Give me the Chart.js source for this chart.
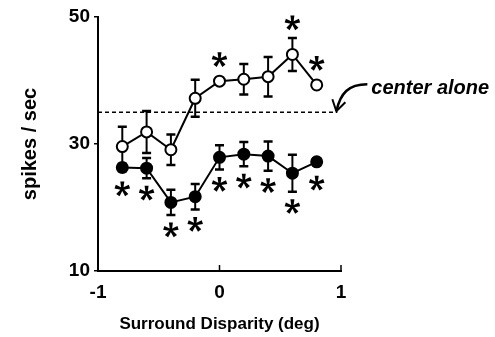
<!DOCTYPE html>
<html>
<head>
<meta charset="utf-8">
<script src="https://cdn.jsdelivr.net/npm/chart.js@4/dist/chart.umd.min.js"></script>
<style>
  html, body { margin: 0; padding: 0; background: #fff; }
  #wrap { width: 495px; height: 337px; position: relative; }
</style>
</head>
<body>
<div id="wrap"><canvas id="c" width="495" height="337"></canvas></div>
<script>
// ---- data ----
const disparity = [-0.8, -0.6, -0.4, -0.2, 0, 0.2, 0.4, 0.6, 0.8];
const surroundOpen = [29.6, 31.9, 29.1, 37.2, 39.9, 40.2, 40.6, 44.1, 39.3];
const surroundOpenErr = [3.1, 3.3, 2.4, 2.9, 0.4, 2.4, 3.1, 2.6, 0.4];
const surroundOpenSig = [0, 0, 0, 0, 1, 0, 0, 1, 1];
const surroundFilled = [26.3, 26.2, 20.8, 21.7, 27.9, 28.4, 28.1, 25.4, 27.2];
const surroundFilledErr = [0.6, 1.6, 2.0, 2.0, 1.9, 1.9, 2.3, 2.9, 0.5];
const surroundFilledSig = [1, 1, 1, 1, 1, 1, 1, 1, 1];
const centerAlone = 35;
const centerAloneLabel = 'center alone';
const xTicks = [-1, 0, 1];
const yTicks = [10, 30, 50];
const xTitle = 'Surround Disparity (deg)';
const yTitle = 'spikes / sec';

const FONT = "'Liberation Sans', Arial, Helvetica, sans-serif";
const R = 5.5;

const pts = (ys) => disparity.map((x, i) => ({ x: x, y: ys[i] }));

const errSets = [
  { vals: surroundOpen, err: surroundOpenErr, sig: surroundOpenSig, dir: -1 },
  { vals: surroundFilled, err: surroundFilledErr, sig: surroundFilledSig, dir: 1 }
];

function drawStar(ctx, cx, cy, r) {
  ctx.save();
  ctx.fillStyle = '#000';
  for (let k = 0; k < 5; k++) {
    const a = -Math.PI / 2 + k * 2 * Math.PI / 5;
    const ca = Math.cos(a), sa = Math.sin(a);
    const nx = -sa, ny = ca;
    const w0 = 1.0, w1 = 2.0;
    ctx.beginPath();
    ctx.moveTo(cx + nx * w0, cy + ny * w0);
    ctx.lineTo(cx + ca * r + nx * w1, cy + sa * r + ny * w1);
    ctx.lineTo(cx + ca * r - nx * w1, cy + sa * r - ny * w1);
    ctx.lineTo(cx - nx * w0, cy - ny * w0);
    ctx.closePath();
    ctx.fill();
  }
  ctx.beginPath();
  ctx.arc(cx, cy, 2, 0, Math.PI * 2);
  ctx.fill();
  ctx.restore();
}

const decor = {
  id: 'decor',
  beforeDatasetsDraw(chart) {
    const { ctx, scales: { x, y } } = chart;
    ctx.save();
    ctx.strokeStyle = '#000';
    errSets.forEach(s => {
      s.vals.forEach((v, i) => {
        const px = x.getPixelForValue(disparity[i]);
        const top = y.getPixelForValue(v + s.err[i]);
        const bot = y.getPixelForValue(v - s.err[i]);
        ctx.lineWidth = 2;
        ctx.beginPath();
        ctx.moveTo(px, top); ctx.lineTo(px, bot);
        ctx.stroke();
        ctx.lineWidth = 2.5;
        ctx.beginPath();
        ctx.moveTo(px - 4.5, top); ctx.lineTo(px + 4.5, top);
        ctx.moveTo(px - 4.5, bot); ctx.lineTo(px + 4.5, bot);
        ctx.stroke();
      });
    });
    ctx.restore();
  },
  afterDatasetsDraw(chart) {
    const { ctx, scales: { x, y } } = chart;
    // significance asterisks
    errSets.forEach(s => {
      s.vals.forEach((v, i) => {
        if (!s.sig[i]) return;
        const px = x.getPixelForValue(disparity[i]);
        const c = y.getPixelForValue(v);
        const e = Math.abs(y.getPixelForValue(v + s.err[i]) - c);
        const ext = Math.max(e, R + 1);
        drawStar(ctx, px, c + s.dir * (ext + 15), 7.5);
      });
    });
    // x-axis inward ticks
    ctx.save();
    ctx.strokeStyle = '#000';
    ctx.lineWidth = 1.5;
    xTicks.forEach(t => {
      const px = x.getPixelForValue(t);
      ctx.beginPath();
      ctx.moveTo(px, y.bottom); ctx.lineTo(px, y.bottom - 6);
      ctx.stroke();
    });
    // annotation "center alone" with curved arrow
    const tipX = x.getPixelForValue(0.97) - 1;
    const tipY = y.getPixelForValue(centerAlone) - 1;
    ctx.font = 'italic bold 20px ' + FONT;
    ctx.fillStyle = '#000';
    ctx.textBaseline = 'middle';
    ctx.textAlign = 'left';
    ctx.fillText(centerAloneLabel, tipX + 35, tipY - 23);
    ctx.lineWidth = 2.5;
    ctx.beginPath();
    ctx.moveTo(tipX + 31, tipY - 27);
    ctx.bezierCurveTo(tipX + 12, tipY - 27, tipX + 4, tipY - 18, tipX, tipY);
    ctx.stroke();
    ctx.lineWidth = 2;
    ctx.beginPath();
    ctx.moveTo(tipX - 4, tipY - 12);
    ctx.lineTo(tipX, tipY);
    ctx.lineTo(tipX + 9, tipY - 9);
    ctx.stroke();
    ctx.restore();
  }
};

new Chart(document.getElementById('c'), {
  type: 'scatter',
  data: {
    datasets: [
      {
        data: [{ x: -1, y: centerAlone }, { x: 0.97, y: centerAlone }],
        showLine: true, borderColor: '#000', borderWidth: 1.5, borderDash: [4, 3],
        pointRadius: 0, order: 3
      },
      {
        data: pts(surroundFilled),
        showLine: true, borderColor: '#000', borderWidth: 2,
        pointRadius: R, pointBackgroundColor: '#000', pointBorderColor: '#000', pointBorderWidth: 2,
        order: 2
      },
      {
        data: pts(surroundOpen),
        showLine: true, borderColor: '#000', borderWidth: 2,
        pointRadius: R, pointBackgroundColor: '#fff', pointBorderColor: '#000', pointBorderWidth: 2,
        order: 1
      }
    ]
  },
  options: {
    responsive: false,
    animation: false,
    devicePixelRatio: 1,
    layout: { padding: { left: 0, right: 154, top: 17, bottom: 0 } },
    plugins: { legend: { display: false }, tooltip: { enabled: false } },
    scales: {
      x: {
        type: 'linear', min: -1, max: 1,
        afterBuildTicks: s => { s.ticks = xTicks.map(v => ({ value: v })); },
        afterFit: s => { s.height = 66; },
        border: { display: true, color: '#000', width: 2 },
        grid: { display: true, drawOnChartArea: false, drawTicks: false },
        ticks: { color: '#000', padding: 10, font: { family: FONT, size: 19, weight: 'bold' },
                 callback: v => String(v) },
        title: { display: true, text: xTitle, color: '#000', padding: { top: 0, bottom: 2 },
                 font: { family: FONT, size: 17, weight: 'bold' } }
      },
      y: {
        type: 'linear', min: 10, max: 50,
        afterBuildTicks: s => { s.ticks = yTicks.map(v => ({ value: v })); },
        afterFit: s => { s.width = 98; },
        border: { display: true, color: '#000', width: 2 },
        grid: { display: true, drawOnChartArea: false, drawTicks: true, tickLength: 4, color: '#000', lineWidth: 1.5 },
        ticks: { color: '#000', padding: 4, font: { family: FONT, size: 19, weight: 'bold' },
                 callback: v => String(v) },
        title: { display: true, text: yTitle, color: '#000', padding: { top: 18, bottom: 0 },
                 font: { family: FONT, size: 20, weight: 'bold' } }
      }
    }
  },
  plugins: [decor]
});
</script>
</body>
</html>
